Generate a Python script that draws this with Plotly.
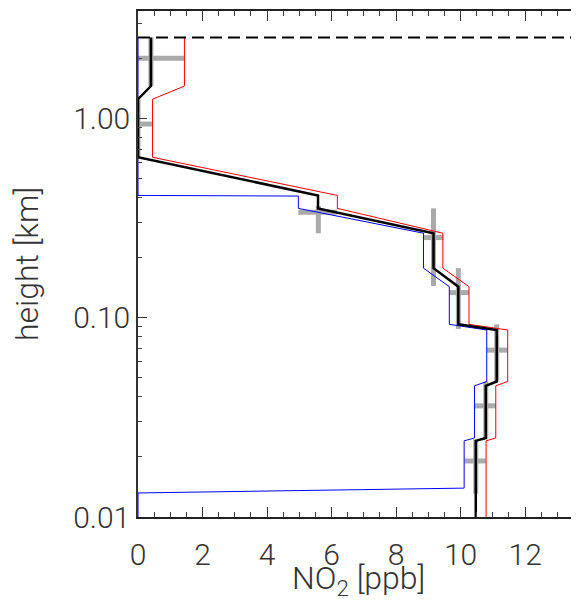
import plotly.graph_objects as go

# ---- data ----
layer_h = [2.54, 1.45, 1.245, 0.637, 0.41, 0.353, 0.265, 0.177, 0.143, 0.0925,
           0.0867, 0.0478, 0.0455, 0.0249, 0.0241, 0.0095]
black_x = [0.40, 0.40, 0.0, 0.0, 5.58, 5.58, 9.16, 9.16, 9.93, 9.93,
           11.12, 11.12, 10.78, 10.78, 10.47, 10.47]
red_x = [1.44, 1.44, 0.45, 0.45, 6.18, 6.18, 9.45, 9.45, 10.26, 10.26,
         11.46, 11.46, 11.09, 11.09, 10.79, 10.79]
blue_h = [2.54, 0.41, 0.407, 0.353, 0.265, 0.177, 0.143, 0.0925,
          0.0867, 0.0478, 0.0455, 0.0249, 0.0241, 0.01396, 0.0132, 0.0095]
blue_x = [0.0, 0.0, 4.97, 4.97, 8.85, 8.85, 9.65, 9.65,
          10.81, 10.81, 10.43, 10.43, 10.11, 10.11, 0.0, 0.0]

cross_x = [0.40, 0.0, 5.59, 9.16, 9.93, 11.12, 10.78, 10.47]
cross_h = [2.0, 0.935, 0.338, 0.252, 0.1335, 0.0687, 0.0361, 0.0191]
cross_xm = [0.40, 0.05, 0.62, 0.31, 0.28, 0.31, 0.35, 0.35]
cross_xp = [1.04, 0.45, 0.57, 0.31, 0.33, 0.34, 0.31, 0.31]
cross_hm = [0.55, 0.298, 0.073, 0.108, 0.0458, 0.0209, 0.0116, 0.006]
cross_hp = [0.54, 0.31, 0.025, 0.101, 0.0435, 0.0238, 0.0117, 0.0054]

top_height = 2.54
x_ticks = [0, 2, 4, 6, 8, 10, 12]
y_ticks = [0.01, 0.1, 1.0]
y_ticktext = ["0.01", "0.10", "1.00"]
x_range = [0, 13.67]
y_range_log = [-2, 0.5377]

FONT = "Roboto"
TXT = "#333333"
TICK_SIZE = 30
TITLE_SIZE = 32

fig = go.Figure()

fig.add_trace(go.Scatter(
    x=cross_x, y=cross_h, mode="markers",
    marker=dict(size=1, color="rgba(0,0,0,0)"),
    error_x=dict(type="data", symmetric=False, array=cross_xp, arrayminus=cross_xm,
                 color="#aaaaaa", thickness=5, width=0),
    error_y=dict(type="data", symmetric=False, array=cross_hp, arrayminus=cross_hm,
                 color="#aaaaaa", thickness=5, width=0),
    hoverinfo="skip", showlegend=False))

fig.add_trace(go.Scatter(x=blue_x, y=blue_h, mode="lines",
                         line=dict(color="#0000ff", width=1), showlegend=False))
fig.add_trace(go.Scatter(x=red_x, y=layer_h, mode="lines",
                         line=dict(color="#ff0000", width=1), showlegend=False))
fig.add_trace(go.Scatter(x=black_x, y=layer_h, mode="lines",
                         line=dict(color="#000000", width=2.5), showlegend=False))

fig.add_shape(type="line", xref="paper", x0=0, x1=1, yref="y",
              y0=top_height, y1=top_height,
              line=dict(color="black", width=2, dash="12px,6px"))

# x-axis title placed as an annotation for exact vertical placement
fig.add_annotation(text="NO<sub>2</sub> [ppb]", xref="paper", yref="paper",
                   x=0.5, y=-0.124, xanchor="center", yanchor="middle",
                   showarrow=False,
                   font=dict(family=FONT, size=TITLE_SIZE, color=TXT, weight=300))

# the page body adds an 8px margin; the figure is sized to fit inside the window
fig.update_layout(
    width=571, height=589,
    margin=dict(l=130, r=0, t=3, b=80),
    paper_bgcolor="white", plot_bgcolor="white",
    font=dict(family=FONT, size=TICK_SIZE, color=TXT, weight=300),
)

fig.update_xaxes(
    range=x_range, tickmode="array", tickvals=x_ticks,
    ticks="inside", ticklen=10, tickwidth=1.2, tickcolor="#333",
    showline=True, linecolor="#222", linewidth=1.5, mirror="allticks",
    showgrid=False, zeroline=False, ticklabelstandoff=10,
    minor=dict(ticks="inside", ticklen=5, dtick=0.5, tick0=0, tickcolor="#444",
               tickwidth=1, showgrid=False),
    tickfont=dict(family=FONT, size=TICK_SIZE, color=TXT, weight=300),
)

minor_y = [m * 10.0 ** e for e in (-2, -1, 0) for m in range(2, 10)]
fig.update_yaxes(
    type="log", range=y_range_log, tickmode="array", tickvals=y_ticks,
    ticktext=y_ticktext,
    ticks="inside", ticklen=9, tickwidth=1.2, tickcolor="#333",
    showline=True, linecolor="#333", linewidth=1.5, mirror=False,
    showgrid=False, zeroline=False,
    minor=dict(ticks="inside", ticklen=4, tickmode="array", tickvals=minor_y,
               tickcolor="#444", tickwidth=1, showgrid=False),
    tickfont=dict(family=FONT, size=TICK_SIZE, color=TXT, weight=300),
    title=dict(text="height [km]", standoff=34,
               font=dict(family=FONT, size=TITLE_SIZE, color=TXT, weight=300)),
)

fig.write_html("out.html")
